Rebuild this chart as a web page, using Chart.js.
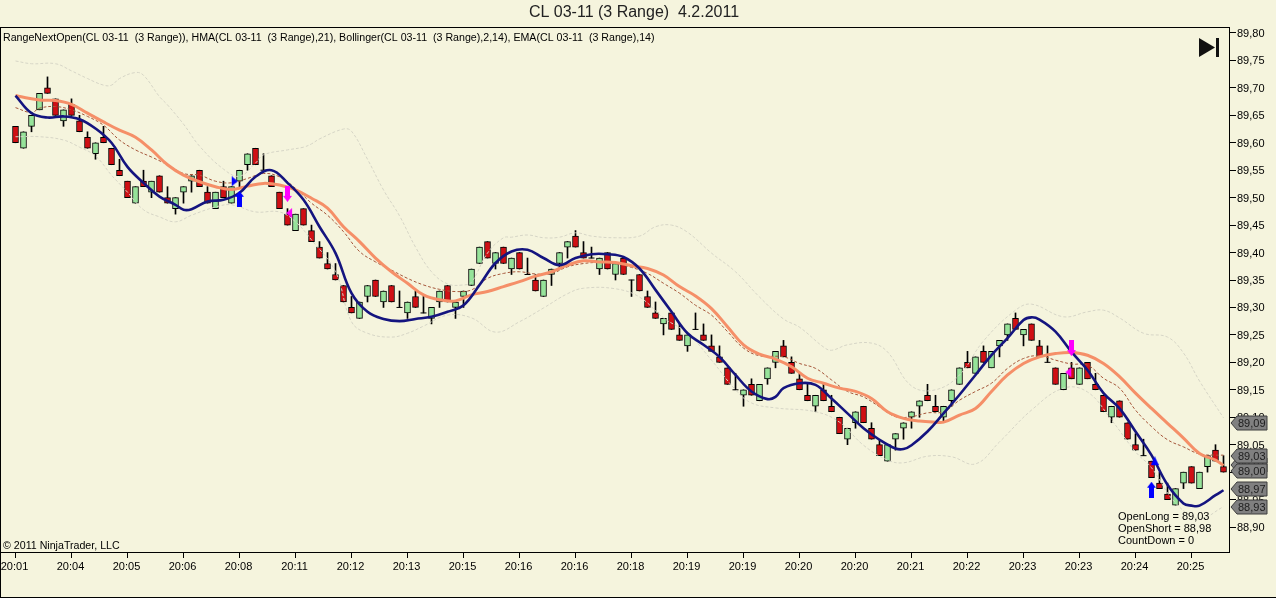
<!DOCTYPE html>
<html><head><meta charset="utf-8">
<style>html,body{margin:0;padding:0;background:#F5F4DD;overflow:hidden}#w{position:relative;width:1276px;height:598px}canvas{display:block}</style>
<script src="https://cdn.jsdelivr.net/npm/chart.js@4"></script>
</head><body><div id="w"><canvas id="c" width="1276" height="598"></canvas></div>
<script>
const opens=[89.63,89.59,89.63,89.66,89.70,89.68,89.64,89.67,89.64,89.61,89.58,89.61,89.59,89.55,89.53,89.49,89.53,89.51,89.54,89.50,89.48,89.51,89.53,89.55,89.51,89.48,89.52,89.49,89.53,89.56,89.59,89.55,89.54,89.51,89.47,89.44,89.48,89.44,89.41,89.38,89.36,89.34,89.30,89.28,89.32,89.35,89.31,89.34,89.30,89.29,89.32,89.29,89.28,89.31,89.34,89.30,89.32,89.34,89.38,89.42,89.38,89.41,89.37,89.40,89.36,89.35,89.32,89.36,89.38,89.41,89.43,89.40,89.39,89.37,89.40,89.36,89.39,89.35,89.36,89.32,89.29,89.27,89.29,89.25,89.23,89.26,89.25,89.23,89.21,89.19,89.15,89.14,89.16,89.13,89.17,89.20,89.23,89.20,89.17,89.14,89.12,89.15,89.12,89.10,89.06,89.09,89.12,89.08,89.05,89.02,89.06,89.08,89.10,89.12,89.14,89.12,89.10,89.13,89.16,89.20,89.18,89.22,89.19,89.23,89.25,89.28,89.25,89.27,89.23,89.20,89.19,89.15,89.19,89.16,89.20,89.16,89.14,89.10,89.13,89.09,89.05,89.03,89.02,88.98,88.96,88.94,88.98,89.01,88.97,89.01,89.04,89.01];
const closes=[89.60,89.62,89.65,89.69,89.69,89.65,89.66,89.65,89.62,89.59,89.60,89.60,89.56,89.54,89.50,89.52,89.52,89.53,89.51,89.49,89.50,89.52,89.54,89.52,89.49,89.51,89.50,89.52,89.55,89.58,89.56,89.55,89.52,89.48,89.45,89.47,89.45,89.42,89.39,89.37,89.35,89.31,89.29,89.31,89.34,89.32,89.33,89.31,89.30,89.31,89.30,89.29,89.30,89.33,89.31,89.31,89.33,89.37,89.41,89.39,89.40,89.38,89.39,89.37,89.36,89.33,89.35,89.37,89.40,89.42,89.41,89.39,89.39,89.39,89.37,89.38,89.36,89.35,89.33,89.30,89.28,89.28,89.26,89.24,89.25,89.26,89.24,89.22,89.20,89.16,89.15,89.15,89.14,89.16,89.19,89.22,89.21,89.18,89.15,89.13,89.14,89.13,89.11,89.07,89.08,89.11,89.09,89.06,89.03,89.05,89.07,89.09,89.11,89.13,89.13,89.11,89.12,89.15,89.19,89.19,89.21,89.20,89.22,89.24,89.27,89.26,89.26,89.24,89.21,89.20,89.16,89.18,89.17,89.19,89.17,89.15,89.11,89.12,89.10,89.06,89.04,89.03,88.99,88.97,88.95,88.97,89.00,88.98,89.00,89.03,89.02,89.00];
const highs=[89.63,89.62,89.65,89.69,89.72,89.68,89.66,89.68,89.65,89.62,89.60,89.63,89.59,89.57,89.53,89.52,89.55,89.53,89.54,89.52,89.50,89.52,89.54,89.55,89.52,89.51,89.53,89.52,89.55,89.58,89.59,89.58,89.54,89.51,89.48,89.47,89.48,89.45,89.42,89.40,89.38,89.34,89.32,89.31,89.34,89.35,89.33,89.34,89.33,89.31,89.33,89.32,89.30,89.33,89.34,89.31,89.33,89.37,89.41,89.42,89.40,89.41,89.39,89.40,89.39,89.36,89.35,89.37,89.40,89.42,89.44,89.42,89.41,89.39,89.40,89.38,89.39,89.35,89.36,89.33,89.31,89.28,89.29,89.27,89.25,89.29,89.27,89.25,89.23,89.19,89.18,89.15,89.17,89.16,89.19,89.22,89.24,89.21,89.18,89.16,89.14,89.16,89.14,89.10,89.08,89.11,89.12,89.09,89.06,89.05,89.07,89.09,89.11,89.13,89.16,89.14,89.12,89.15,89.19,89.22,89.21,89.23,89.22,89.24,89.27,89.29,89.26,89.27,89.24,89.23,89.19,89.18,89.20,89.19,89.20,89.18,89.14,89.12,89.13,89.09,89.07,89.06,89.02,89.00,88.98,88.97,89.00,89.01,89.00,89.03,89.05,89.03];
const lows=[89.60,89.59,89.62,89.66,89.69,89.65,89.63,89.65,89.62,89.59,89.57,89.60,89.56,89.54,89.50,89.49,89.52,89.50,89.51,89.49,89.47,89.49,89.51,89.52,89.49,89.48,89.50,89.49,89.52,89.55,89.56,89.55,89.52,89.48,89.45,89.44,89.45,89.42,89.39,89.37,89.35,89.31,89.29,89.28,89.31,89.32,89.30,89.31,89.30,89.28,89.30,89.29,89.27,89.30,89.31,89.28,89.30,89.34,89.38,89.39,89.37,89.38,89.36,89.37,89.36,89.33,89.32,89.34,89.37,89.39,89.41,89.39,89.39,89.36,89.37,89.35,89.36,89.32,89.33,89.30,89.28,89.25,89.26,89.24,89.22,89.26,89.24,89.22,89.20,89.16,89.15,89.12,89.14,89.13,89.16,89.19,89.21,89.18,89.15,89.13,89.11,89.13,89.11,89.07,89.05,89.08,89.09,89.06,89.03,89.02,89.04,89.06,89.08,89.10,89.13,89.11,89.09,89.12,89.16,89.19,89.18,89.20,89.19,89.21,89.24,89.26,89.23,89.24,89.21,89.20,89.16,89.15,89.17,89.16,89.17,89.15,89.11,89.09,89.10,89.06,89.04,89.03,88.99,88.97,88.95,88.94,88.97,88.98,88.97,89.00,89.02,89.00];

const hmaBars=[0,2,4,6,8,10,12,14,16,18,20,21,22,24,26,28,30,32,34,36,38,40,42,44,46,48,50,52,54,56,58,60,62,64,66,68,70,72,74,76,78,80,82,84,86,88,90,92,94,95,96,98,100,102,104,106,108,110,111,112,114,116,118,120,122,124,126,127,128,130,132,134,136,138,140,142,144,146,147,148,150,151];
const hmaVals=[89.686,89.654,89.646,89.648,89.643,89.626,89.600,89.556,89.527,89.502,89.487,89.478,89.479,89.493,89.496,89.509,89.538,89.550,89.527,89.496,89.447,89.399,89.326,89.292,89.279,89.275,89.279,89.283,89.292,89.304,89.341,89.381,89.402,89.405,89.390,89.377,89.390,89.397,89.397,89.392,89.371,89.332,89.292,89.253,89.232,89.210,89.177,89.147,89.133,89.137,89.153,89.162,89.159,89.134,89.107,89.080,89.059,89.043,89.042,89.049,89.074,89.107,89.141,89.177,89.213,89.244,89.277,89.282,89.278,89.256,89.219,89.186,89.144,89.116,89.074,89.031,88.977,88.943,88.939,88.939,88.958,88.967];
const emaBars=[0,1,3,5,7,9,11,13,15,17,19,21,23,25,27,29,31,33,35,37,39,41,43,45,47,49,51,53,55,57,59,61,63,65,67,69,71,73,75,77,79,81,83,85,87,89,91,93,95,97,99,101,103,105,107,109,111,113,115,116,118,120,122,124,126,128,130,132,134,136,138,140,142,144,146,148,150,151];
const emaVals=[89.686,89.683,89.678,89.677,89.670,89.654,89.638,89.623,89.610,89.587,89.560,89.541,89.529,89.520,89.515,89.521,89.526,89.523,89.514,89.499,89.481,89.447,89.420,89.390,89.365,89.344,89.323,89.314,89.312,89.323,89.329,89.338,89.347,89.357,89.365,89.377,89.385,89.383,89.382,89.376,89.371,89.359,89.338,89.321,89.298,89.265,89.232,89.215,89.206,89.192,89.171,89.162,89.153,89.147,89.134,89.110,89.098,89.093,89.091,89.091,89.104,89.116,89.147,89.177,89.198,89.210,89.216,89.218,89.213,89.198,89.174,89.144,89.116,89.089,89.062,89.034,89.022,89.012];
const midBars=[0,2,3,5,7,9,11,13,15,17,19,21,23,25,27,29,31,33,35,37,39,41,43,45,47,49,51,53,55,57,59,61,63,65,67,69,71,73,75,77,79,81,83,85,87,89,91,93,96,98,100,102,104,106,108,110,112,114,116,118,120,122,124,126,128,130,132,134,136,138,140,142,144,146,148,150,151];
const midVals=[89.664,89.655,89.663,89.666,89.660,89.648,89.632,89.605,89.587,89.574,89.560,89.544,89.541,89.530,89.527,89.535,89.544,89.538,89.517,89.490,89.468,89.438,89.402,89.383,89.368,89.353,89.341,89.333,89.329,89.332,89.353,89.362,89.365,89.361,89.362,89.374,89.380,89.382,89.380,89.373,89.362,89.344,89.326,89.304,89.286,89.256,89.226,89.212,89.210,89.198,89.189,89.168,89.147,89.137,89.119,89.101,89.101,89.108,89.110,89.131,89.147,89.162,89.189,89.207,89.212,89.204,89.197,89.195,89.171,89.153,89.113,89.083,89.059,89.046,89.033,89.031,89.031];
const upperBars=[0,2,5,7,9,11,12,13,15,16,18,19,21,23,26,28,30,31,34,36,37,38,41,42,44,46,48,50,52,54,56,57,59,61,62,64,66,68,70,72,75,78,80,82,84,87,90,93,96,98,101,102,104,107,109,112,115,118,121,125,127,131,134,136,138,141,144,146,148,151];
const upperVals=[89.749,89.744,89.744,89.731,89.717,89.705,89.705,89.717,89.728,89.723,89.684,89.669,89.634,89.594,89.552,89.539,89.563,89.578,89.587,89.592,89.598,89.607,89.625,89.621,89.570,89.514,89.467,89.410,89.365,89.343,89.341,89.346,89.399,89.427,89.428,89.432,89.427,89.428,89.436,89.430,89.427,89.430,89.447,89.450,89.437,89.399,89.365,89.319,89.279,89.264,89.228,89.222,89.232,89.235,89.219,89.157,89.150,89.177,89.239,89.295,89.306,89.283,89.292,89.295,89.281,89.253,89.246,89.217,89.166,89.099];
const lowerBars=[0,3,6,8,10,12,14,16,18,20,22,25,27,30,33,35,37,40,42,44,47,49,51,54,57,60,63,66,69,71,75,78,81,84,87,90,92,95,100,103,106,109,111,114,117,120,123,127,131,134,137,140,142,145,148,151];
const lowerVals=[89.611,89.611,89.605,89.592,89.576,89.541,89.510,89.478,89.465,89.456,89.468,89.483,89.487,89.474,89.474,89.456,89.423,89.365,89.274,89.253,89.246,89.253,89.266,89.286,89.281,89.255,89.274,89.299,89.325,89.335,89.334,89.319,89.281,89.253,89.204,89.150,89.126,89.117,89.110,89.091,89.049,89.022,89.017,89.029,89.028,89.015,89.055,89.113,89.153,89.146,89.095,89.037,89.008,88.944,88.916,88.937];

const yTicks=[89.80,89.75,89.70,89.65,89.60,89.55,89.50,89.45,89.40,89.35,89.30,89.25,89.20,89.15,89.10,89.05,89.00,88.95,88.90];
const timeLabels=['20:01','20:04','20:05','20:06','20:08','20:11','20:12','20:13','20:15','20:16','20:16','20:18','20:19','20:19','20:20','20:20','20:21','20:22','20:23','20:23','20:24','20:25'];
const timeBars=[0,7,14,21,28,35,42,49,56,63,70,77,84,91,98,105,112,119,126,133,140,147];
const tagValues=['89,01','89,09','89,03','88,97','88,93','89,00'];
const tagPrices=[89.013,89.09,89.03,88.97,88.937,89.002];
const infoLines=['OpenLong = 89,03','OpenShort = 88,98','CountDown = 0'];
const upArrow=[[28,89.498],[142,88.968]];
const downArrow=[[34,89.507],[132,89.226]];
const triBlueR=[[27.4,89.53]];
const triBlueU=[[142.4,89.02]];
const triPinkL=[[34.2,89.472],[131.6,89.182]];

function arrow(color,up){const c=document.createElement('canvas');c.width=9;c.height=16;const g=c.getContext('2d');g.fillStyle=color;g.beginPath();
 if(up){g.moveTo(4.5,0);g.lineTo(9,6);g.lineTo(7,6);g.lineTo(7,16);g.lineTo(2,16);g.lineTo(2,6);g.lineTo(0,6);}
 else{g.moveTo(2,0);g.lineTo(7,0);g.lineTo(7,10);g.lineTo(9,10);g.lineTo(4.5,16);g.lineTo(0,10);g.lineTo(2,10);}
 g.closePath();g.fill();return c;}
function tri(color,dir){const c=document.createElement('canvas');c.width=8;c.height=10;const g=c.getContext('2d');g.fillStyle=color;g.beginPath();
 if(dir==='r'){g.moveTo(1,0);g.lineTo(7,5);g.lineTo(1,10);}
 if(dir==='l'){g.moveTo(7,0);g.lineTo(1,5);g.lineTo(7,10);}
 if(dir==='u'){g.moveTo(4,0);g.lineTo(8,9);g.lineTo(0,9);}
 g.closePath();g.fill();return c;}

const idx=opens.map((_,i)=>i);
const isDoji=i=>opens[i]===closes[i];
const pts=(b,v)=>b.map((x,i)=>({x,y:v[i]}));
const mark=(a)=>a.map(p=>({x:p[0],y:p[1]}));
const line=(label,b,v,color,w,dash,order)=>({type:'line',label,data:pts(b,v),borderColor:color,borderWidth:w,borderDash:dash,pointRadius:0,tension:0.4,fill:false,order});
const sym=(label,a,style,order)=>({type:'line',label,data:mark(a),showLine:false,pointStyle:style,pointRadius:6,order});
const bars=(label,data,bg,thick,bw,order)=>({type:'bar',label,data,backgroundColor:bg,borderColor:'#000',borderWidth:bw,borderSkipped:false,barThickness:thick,grouped:false,order});

const overlay={id:'overlay',
 afterDatasetsDraw(ch){const g=ch.ctx,ys=ch.scales.y;g.save();
  g.fillStyle='#000';
  g.fillRect(0,27,1230,1);g.fillRect(1229,27,1,526);g.fillRect(0,552,1230,1);g.fillRect(0,27,1,571);g.fillRect(0,597,1276,1);
  g.textBaseline='middle';
  g.fillStyle='#222';g.font='16px "Liberation Sans"';g.textAlign='center';g.fillText('CL 03-11 (3 Range)  4.2.2011',634,13);
  g.fillStyle='#000';g.textAlign='left';g.font='10.65px "Liberation Sans"';
  g.fillText('RangeNextOpen(CL 03-11  (3 Range)), HMA(CL 03-11  (3 Range),21), Bollinger(CL 03-11  (3 Range),2,14), EMA(CL 03-11  (3 Range),14)',3,38.5);
  g.fillText('© 2011 NinjaTrader, LLC',3,546.5);
  g.font='11px "Liberation Sans"';
  infoLines.forEach((t,i)=>g.fillText(t,1118,516.5+i*12));
  g.fillStyle='#111';g.beginPath();g.moveTo(1199,38);g.lineTo(1215,47.5);g.lineTo(1199,57);g.closePath();g.fill();g.fillRect(1216,38,3,19);
  tagValues.forEach((t,i)=>{const y=Math.round(ys.getPixelForValue(tagPrices[i]));
   g.beginPath();g.moveTo(1231,y);g.lineTo(1237,y-7);g.lineTo(1267,y-7);g.lineTo(1267,y+7);g.lineTo(1237,y+7);g.closePath();
   g.fillStyle='#808080';g.fill();g.strokeStyle='#3c3c3c';g.lineWidth=1;g.stroke();
   g.fillStyle='#1c1c1c';g.font='11px "Liberation Sans"';g.fillText(t,1238,y+0.5);});
  g.restore();}};

new Chart(document.getElementById('c'),{type:'bar',plugins:[overlay],
 data:{datasets:[
  sym('Long',upArrow,arrow('#0000FF',true),0),
  sym('Short',downArrow,arrow('#FF00FF',false),0),
  sym('LongTrigger',triBlueR,tri('#0000FF','r'),0),
  sym('LongTrigger2',triBlueU,tri('#0000FF','u'),0),
  sym('ShortTrigger',triPinkL,tri('#FF00FF','l'),0),
  line('HMA',hmaBars,hmaVals,'#14147F',2.6,[],1),
  line('EMA',emaBars,emaVals,'#F58F68',3,[],2),
  line('BollingerMid',midBars,midVals,'#A5563A',1,[3,2],3),
  line('BollingerUpper',upperBars,upperVals,'#D6D5C6',1,[3,2],4),
  line('BollingerLower',lowerBars,lowerVals,'#D6D5C6',1,[3,2],4),
  {type:'line',label:'Doji',data:idx.filter(isDoji).map(i=>({x:i,y:closes[i]})),showLine:false,pointStyle:'line',pointRadius:3,pointBorderColor:'#000',pointBorderWidth:1,order:5},
  bars('Up',idx.filter(i=>closes[i]>opens[i]).map(i=>({x:i,y:[opens[i],closes[i]]})),'#96E39A',6,1,6),
  bars('Down',idx.filter(i=>closes[i]<opens[i]).map(i=>({x:i,y:[opens[i],closes[i]]})),'#D00F14',6,1,6),
  bars('Wick',idx.map(i=>({x:i,y:[lows[i],highs[i]]})),'#000',1,0,7)
 ]},
 options:{responsive:false,animation:false,devicePixelRatio:1,
  layout:{autoPadding:false,padding:{top:27,left:1,right:0,bottom:0}},
  plugins:{legend:{display:false},tooltip:{enabled:false},title:{display:false}},
  scales:{
   x:{type:'linear',position:'bottom',offset:false,min:-1.8125,max:151.6875,
    grid:{offset:false,drawOnChartArea:false,drawTicks:true,tickLength:6,tickColor:'#000'},border:{display:false},
    afterBuildTicks(s){s.ticks=timeBars.map(v=>({value:v}));},
    afterFit(s){s.height=46;s.paddingLeft=0;s.paddingRight=0;},
    ticks:{autoSkip:false,maxRotation:0,minRotation:0,padding:2,labelOffset:-1,color:'#000',font:{family:'Liberation Sans',size:11},
     callback(v){const k=timeBars.indexOf(v);return k<0?'':timeLabels[k];}}},
   y:{type:'linear',position:'right',min:88.8545,max:89.8109,
    grid:{drawOnChartArea:false,drawTicks:true,tickLength:7,tickColor:'#000'},border:{display:false},
    afterBuildTicks(s){s.ticks=yTicks.map(v=>({value:v}));},
    afterFit(s){s.width=47;s.paddingTop=0;s.paddingBottom=0;},
    ticks:{padding:1,labelOffset:1,color:'#000',font:{family:'Liberation Sans',size:11},callback(v){return v.toFixed(2).replace('.',',');}}}
  }}});
</script></body></html>
